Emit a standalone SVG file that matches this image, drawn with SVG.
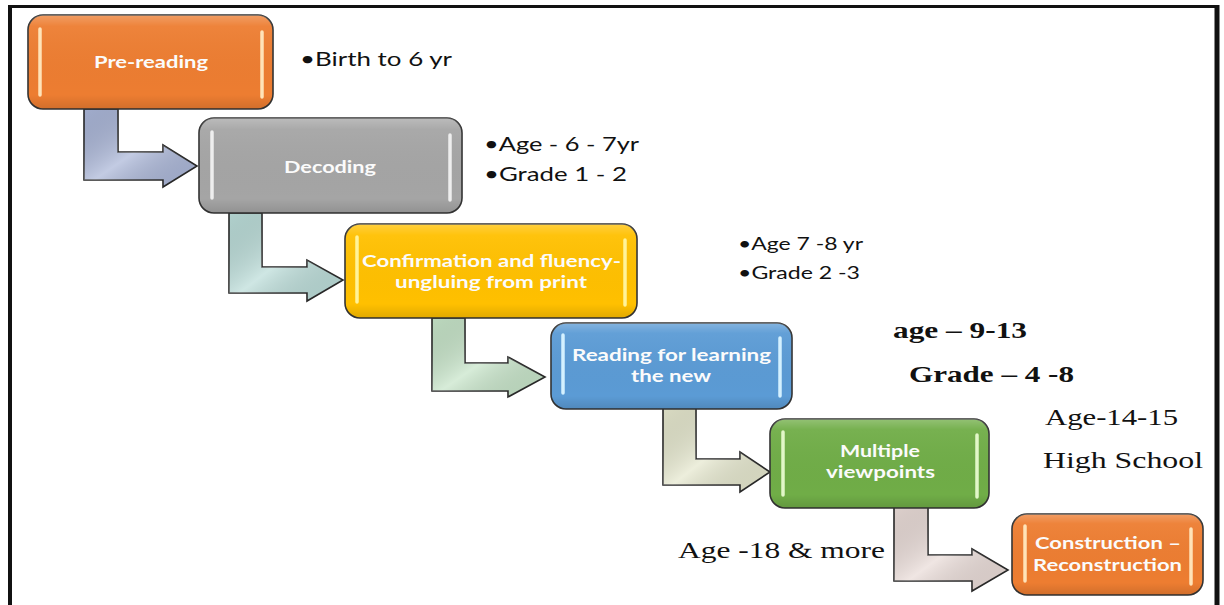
<svg xmlns="http://www.w3.org/2000/svg" width="1224" height="605" viewBox="0 0 1224 605">
<defs>
<linearGradient id="gloss" x1="0" y1="0" x2="0" y2="1">
<stop offset="0" stop-color="#ffffff" stop-opacity="0.25"/>
<stop offset="0.12" stop-color="#ffffff" stop-opacity="0.05"/>
<stop offset="0.85" stop-color="#000000" stop-opacity="0"/>
<stop offset="1" stop-color="#000000" stop-opacity="0.12"/>
</linearGradient>
<linearGradient id="ashade" x1="0" y1="0" x2="1" y2="1">
<stop offset="0" stop-color="#000000" stop-opacity="0.05"/>
<stop offset="0.5" stop-color="#ffffff" stop-opacity="0.3"/>
<stop offset="1" stop-color="#000000" stop-opacity="0.04"/>
</linearGradient>
<style>
.box{stroke:#333333;stroke-width:1.6}
.gl{fill:url(#gloss);stroke:none}
.hl{stroke-width:3.5;stroke-linecap:round;fill:none}
.lbl{font-family:Lato,"Liberation Sans",sans-serif;font-weight:bold;font-size:17px;fill:#fbfbfb}
.arr{stroke:#262626;stroke-width:1.6;stroke-linejoin:miter}
.ash{fill:url(#ashade);stroke:none}
.cal{font-family:Lato,"Liberation Sans",sans-serif;fill:#111111}
.tnr{font-family:"Liberation Serif","DejaVu Serif",serif;fill:#111111}
</style>
</defs>
<rect width="1224" height="605" fill="#ffffff"/>
<g id="frame" fill="none" stroke="#111111">
<line x1="10" y1="6" x2="10" y2="605" stroke-width="4"/>
<line x1="8" y1="6.5" x2="1219" y2="6.5" stroke-width="3"/>
<line x1="1217" y1="5" x2="1217" y2="605" stroke-width="5"/>
</g>
<g id="connectors">
<path class="arr" fill="#a9b5d7" d="M84,109 H118 V152 H163 V145 L197,166 L163,187 V180 H84 Z"/>
<path class="ash" d="M84,109 H118 V152 H163 V145 L197,166 L163,187 V180 H84 Z"/>
<path class="arr" fill="#badcd8" d="M229,213 H262 V267 H307 V260 L343,280 L307,301 V293 H229 Z"/>
<path class="ash" d="M229,213 H262 V267 H307 V260 L343,280 L307,301 V293 H229 Z"/>
<path class="arr" fill="#c6e4c8" d="M432,318 H465 V363 H508 V357 L545,377 L508,397 V391 H432 Z"/>
<path class="ash" d="M432,318 H465 V363 H508 V357 L545,377 L508,397 V391 H432 Z"/>
<path class="arr" fill="#e5e7cd" d="M663,408 H696 V459 H740 V452 L770,472 L740,492 V485 H663 Z"/>
<path class="ash" d="M663,408 H696 V459 H740 V452 L770,472 L740,492 V485 H663 Z"/>
<path class="arr" fill="#e9dbd7" d="M894,507 H928 V555 H972 V549 L1008,570 L972,591 V581 H894 Z"/>
<path class="ash" d="M894,507 H928 V555 H972 V549 L1008,570 L972,591 V581 H894 Z"/>
</g>
<g id="node-prereading">
<rect class="box" x="28" y="15" width="245" height="94" rx="15" fill="#ed7d31"/>
<rect class="gl" x="28" y="15" width="245" height="94" rx="15"/>
<line class="hl" x1="40" y1="29" x2="40" y2="95" stroke="#ffe3b8"/>
<line class="hl" x1="262" y1="32" x2="262" y2="97" stroke="#ffe3b8"/>
<text class="lbl" x="94" y="68" textLength="114" lengthAdjust="spacingAndGlyphs">Pre-reading</text>
</g>
<g id="node-decoding">
<rect class="box" x="199" y="118" width="263" height="95" rx="15" fill="#a5a5a5"/>
<rect class="gl" x="199" y="118" width="263" height="95" rx="15"/>
<line class="hl" x1="212" y1="132" x2="212" y2="198" stroke="#eeeeee"/>
<line class="hl" x1="450" y1="135" x2="450" y2="200" stroke="#eeeeee"/>
<text class="lbl" x="284" y="173" textLength="92" lengthAdjust="spacingAndGlyphs">Decoding</text>
</g>
<g id="node-confirmation">
<rect class="box" x="345" y="224" width="292" height="94" rx="15" fill="#ffc000"/>
<rect class="gl" x="345" y="224" width="292" height="94" rx="15"/>
<line class="hl" x1="357" y1="237" x2="357" y2="302" stroke="#fff39a"/>
<line class="hl" x1="625" y1="240" x2="625" y2="305" stroke="#fff39a"/>
<text class="lbl" x="362" y="267" textLength="259" lengthAdjust="spacingAndGlyphs">Confirmation and fluency-</text>
<text class="lbl" x="395" y="288" textLength="192" lengthAdjust="spacingAndGlyphs">ungluing from print</text>
</g>
<g id="node-reading">
<rect class="box" x="551" y="323" width="241" height="86" rx="15" fill="#5b9bd5"/>
<rect class="gl" x="551" y="323" width="241" height="86" rx="15"/>
<line class="hl" x1="563" y1="335" x2="563" y2="393" stroke="#d4f1ff"/>
<line class="hl" x1="780" y1="338" x2="780" y2="396" stroke="#d4f1ff"/>
<text class="lbl" x="572" y="361" textLength="199" lengthAdjust="spacingAndGlyphs">Reading for learning</text>
<text class="lbl" x="631" y="382" textLength="80" lengthAdjust="spacingAndGlyphs">the new</text>
</g>
<g id="node-multiple">
<rect class="box" x="770" y="419" width="219" height="89" rx="15" fill="#70ad47"/>
<rect class="gl" x="770" y="419" width="219" height="89" rx="15"/>
<line class="hl" x1="783" y1="432" x2="783" y2="495" stroke="#e2f7c8"/>
<line class="hl" x1="977" y1="435" x2="977" y2="497" stroke="#e2f7c8"/>
<text class="lbl" x="840" y="457" textLength="80" lengthAdjust="spacingAndGlyphs">Multiple</text>
<text class="lbl" x="826" y="478" textLength="109" lengthAdjust="spacingAndGlyphs">viewpoints</text>
</g>
<g id="node-construction">
<rect class="box" x="1012" y="514" width="191" height="81" rx="15" fill="#ed7d31"/>
<rect class="gl" x="1012" y="514" width="191" height="81" rx="15"/>
<line class="hl" x1="1025" y1="526" x2="1025" y2="581" stroke="#ffe3b8"/>
<line class="hl" x1="1191" y1="529" x2="1191" y2="584" stroke="#ffe3b8"/>
<text class="lbl" x="1035" y="549" textLength="146" lengthAdjust="spacingAndGlyphs">Construction –</text>
<text class="lbl" x="1033" y="571" textLength="149" lengthAdjust="spacingAndGlyphs">Reconstruction</text>
</g>
<g id="notes">
<text class="cal" x="300" y="66" font-size="20" textLength="152" lengthAdjust="spacingAndGlyphs">•Birth to 6 yr</text>
<text class="cal" x="484" y="151" font-size="20" textLength="155" lengthAdjust="spacingAndGlyphs">•Age - 6 - 7yr</text>
<text class="cal" x="484" y="181" font-size="20" textLength="143" lengthAdjust="spacingAndGlyphs">•Grade 1 - 2</text>
<text class="cal" x="738" y="250" font-size="17" textLength="125" lengthAdjust="spacingAndGlyphs">•Age 7 -8 yr</text>
<text class="cal" x="738" y="279" font-size="17" textLength="122" lengthAdjust="spacingAndGlyphs">•Grade 2 -3</text>
<text class="tnr" x="893" y="338" font-size="23" font-weight="bold" textLength="134" lengthAdjust="spacingAndGlyphs">age – 9-13</text>
<text class="tnr" x="909" y="382" font-size="23" font-weight="bold" textLength="165" lengthAdjust="spacingAndGlyphs">Grade – 4 -8</text>
<text class="tnr" x="1045" y="425" font-size="24" textLength="133" lengthAdjust="spacingAndGlyphs">Age-14-15</text>
<text class="tnr" x="1043" y="468" font-size="24" textLength="160" lengthAdjust="spacingAndGlyphs">High School</text>
<text class="tnr" x="678" y="558" font-size="24" textLength="207" lengthAdjust="spacingAndGlyphs">Age -18 &amp; more</text>
</g>
</svg>
